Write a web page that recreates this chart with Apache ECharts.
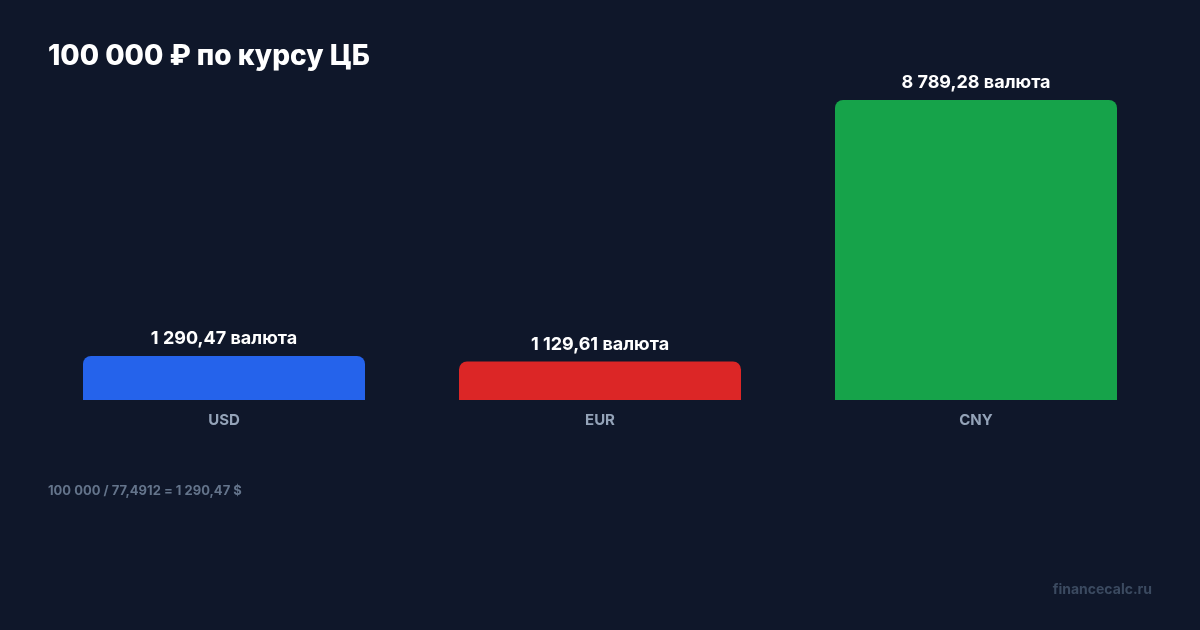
<!DOCTYPE html>
<html>
<head>
<meta charset="utf-8">
<script src="https://cdn.jsdelivr.net/npm/echarts@6/dist/echarts.min.js"></script>
<style>
  html, body { margin: 0; padding: 0; background: #0f172a; }
  #chart { width: 1200px; height: 630px; }
</style>
</head>
<body>
<div id="chart"></div>
<script>
const categories = ['USD', 'EUR', 'CNY'];
const amounts = [1290.47, 1129.61, 8789.28];
const barColors = ['#2563eb', '#dc2626', '#16a34a'];
const titleText = '100 000 ₽ по курсу ЦБ';
const noteText = '100 000 / 77,4912 = 1 290,47 $';
const sourceText = 'financecalc.ru';

// 1290.47 -> "1 290,47"
const fmt = (v) => {
  const parts = v.toFixed(2).split('.');
  return parts[0].replace(/\B(?=(\d{3})+(?!\d))/g, ' ') + ',' + parts[1];
};

const chart = echarts.init(document.getElementById('chart'));
chart.setOption({
  backgroundColor: '#0f172a',
  textStyle: { fontFamily: 'Inter, sans-serif' },
  graphic: [
    {
      type: 'text', left: 48, top: 43,
      style: { text: titleText, fill: '#ffffff', font: '800 28px Inter, sans-serif' },
    },
    {
      type: 'text', left: 48, top: 485,
      style: { text: noteText, fill: '#64748b', font: 'bold 13px Inter, sans-serif' },
    },
    {
      type: 'text', right: 48, top: 583,
      style: { text: sourceText, fill: '#3b4a60', font: 'bold 14px Inter, sans-serif' },
    },
  ],
  grid: { left: 36, right: 36, top: 100, bottom: 230 },
  xAxis: {
    type: 'category',
    data: categories,
    axisLine: { show: false },
    axisTick: { show: false },
    axisLabel: { color: '#94a3b8', fontSize: 15, fontWeight: 'bold', margin: 13 },
  },
  yAxis: {
    type: 'value',
    min: 0,
    max: 'dataMax',
    show: false,
    splitLine: { show: false },
  },
  series: [{
    type: 'bar',
    barWidth: '75%',
    data: amounts.map((v, i) => ({ value: v, itemStyle: { color: barColors[i] } })),
    itemStyle: { borderRadius: [8, 8, 0, 0] },
    label: {
      show: true,
      position: 'top',
      distance: 8,
      color: '#ffffff',
      fontSize: 18,
      fontWeight: 'bold',
      formatter: (p) => fmt(p.value) + ' валюта',
    },
  }],
});
</script>
</body>
</html>
